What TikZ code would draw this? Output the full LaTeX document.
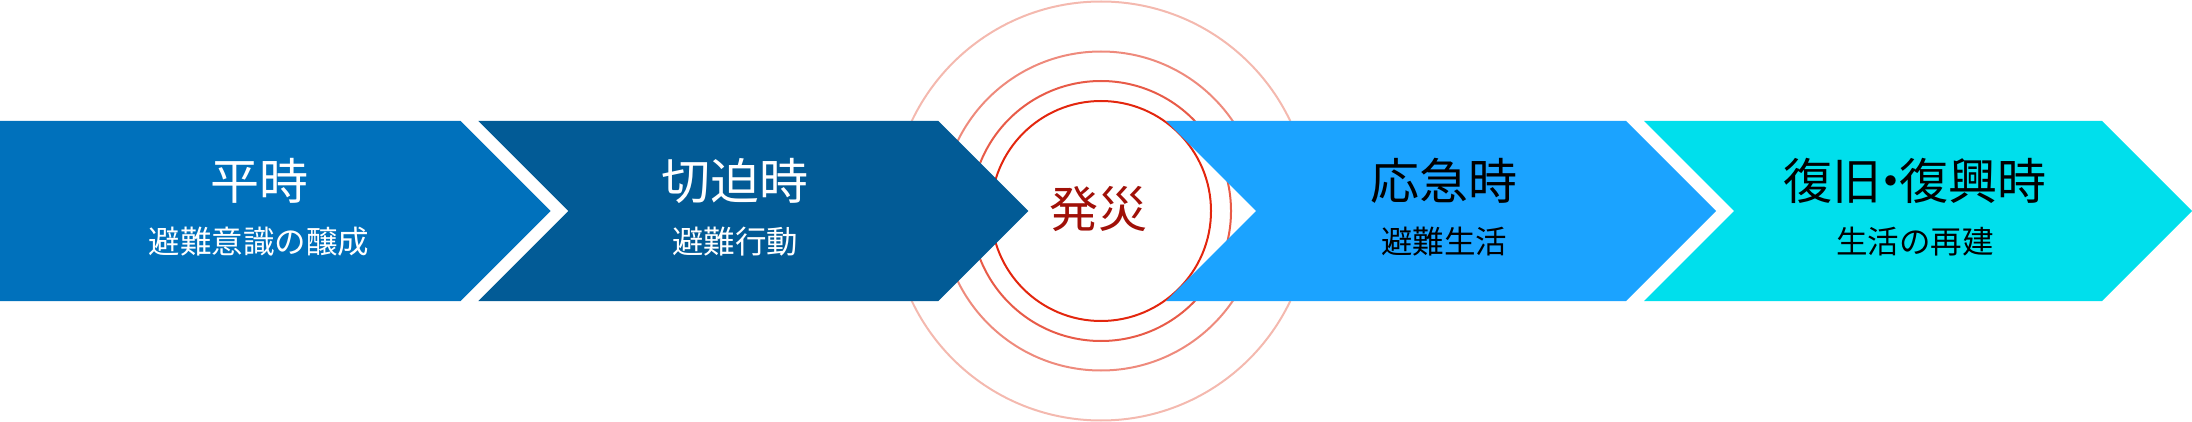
\documentclass[tikz,border=0pt]{standalone}
\usepackage{fontspec}
\setmainfont{Noto Sans CJK JP}
\newfontfamily\jpfont{Noto Sans CJK JP}
\definecolor{cA}{RGB}{0,113,188}
\definecolor{cB}{RGB}{2,91,150}
\definecolor{cC}{RGB}{27,163,255}
\definecolor{cD}{RGB}{0,223,236}
\definecolor{rA}{RGB}{227,38,14}
\definecolor{rB}{RGB}{232,91,72}
\definecolor{rC}{RGB}{238,138,124}
\definecolor{rD}{RGB}{244,185,175}
\definecolor{txtred}{RGB}{160,16,8}
\tikzset{
  titletext/.style={anchor=base,inner sep=0pt,font=\jpfont\fontsize{49}{49}\selectfont},
  subtext/.style={anchor=base,inner sep=0pt,font=\jpfont\fontsize{31.5}{31.5}\selectfont},
  ring/.style={line width=2pt}
}
\begin{document}
\begin{tikzpicture}[x=1pt,y=-1pt]
\useasboundingbox (0,0) rectangle (2192,422);
% rings
\coordinate (c) at (1101,211);
\draw[ring,rD] (c) circle[radius=209.5];
\draw[ring,rC] (c) circle[radius=159.5];
\draw[ring,rB] (c) circle[radius=130];
\draw[ring,rA] (c) circle[radius=110];
% chevrons
\fill[cA] (0,121) -- (460.7,121) -- (550.7,211) -- (460.7,301) -- (0,301) -- cycle;
\fill[cB] (478.3,121) -- (938.3,121) -- (1028.3,211) -- (938.3,301) -- (478.3,301) -- (568.3,211) -- cycle;
\fill[cC] (1166,121) -- (1626,121) -- (1716,211) -- (1626,301) -- (1166,301) -- (1256,211) -- cycle;
\fill[cD] (1644,121) -- (2102,121) -- (2192,211) -- (2102,301) -- (1644,301) -- (1734,211) -- cycle;
% texts
\node[titletext,white] (t1) at (259,199.5) {平時};
\node[subtext,white] (s1) at (259,253.2) {避難意識の醸成};
\node[titletext,white] (t2) at (735,199.5) {切迫時};
\node[subtext,white] (s2) at (735,253.2) {避難行動};
\node[titletext,txtred] (t0) at (1098.5,228) {発災};
\node[titletext,black] (t3) at (1444,199.5) {応急時};
\node[subtext,black] (s3) at (1444,253.2) {避難生活};
\node[titletext,black] (t4) at (1915,199.5) {復旧\kern-0.32em・\kern-0.32em 復興時};
\node[subtext,black] (s4) at (1915,253.2) {生活の再建};
\end{tikzpicture}
\end{document}
